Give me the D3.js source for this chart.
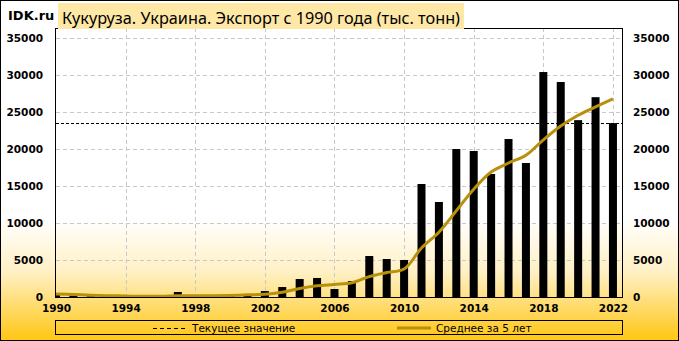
<!DOCTYPE html>
<html>
<head>
<meta charset="utf-8">
<script src="https://cdn.jsdelivr.net/npm/d3@7"></script>
<style>
  body { margin: 0; background: #fff; }
  svg { display: block; }
  .tick text { font-family: "DejaVu Sans", sans-serif; font-weight: bold; font-size: 10.5px; fill: #000; }
</style>
</head>
<body>
<svg width="679" height="341"></svg>
<script>
// years and export values (thousand tonnes)
var years = d3.range(1990, 2023);
var exportVals = [300, 200, 100, 50, 50, 50, 50, 675, 50, 50, 250, 400,
  800, 1350, 2430, 2570, 1080, 2160, 5540, 5135, 5000, 15270, 12840, 20000,
  19730, 16620, 21350, 18110, 30400, 29050, 23900, 27000, 23500];
// 5-year average line
var avgVals = [400, 330, 250, 180, 130, 100, 100, 170, 170, 170, 210, 290,
  360, 650, 1150, 1510, 1700, 1920, 2760, 3300, 3780, 6620, 8760, 11650,
  14570, 16890, 18110, 19160, 21240, 23110, 24560, 25690, 26770];
var currentVal = 23500;
var yTicks = [0, 5000, 10000, 15000, 20000, 25000, 30000, 35000];
var xTicks = [1990, 1994, 1998, 2002, 2006, 2010, 2014, 2018, 2022];

var svg = d3.select('svg');
var W = 679, H = 341;
var pL = 56, pR = 622, pT = 28, pB = 297;

// background gradient (shows through the plot area too)
var defs = svg.append('defs');
var grad = defs.append('linearGradient').attr('id', 'bg')
  .attr('x1', 0).attr('y1', 0).attr('x2', 0).attr('y2', 1);
grad.append('stop').attr('offset', '0%').attr('stop-color', '#fff');
grad.append('stop').attr('offset', '64%').attr('stop-color', '#fff');
grad.append('stop').attr('offset', '80%').attr('stop-color', '#fff0c4');
grad.append('stop').attr('offset', '100%').attr('stop-color', '#ffc612');

svg.append('rect')
  .attr('x', 0.5).attr('y', 0.5)
  .attr('width', W - 1).attr('height', H - 1)
  .attr('fill', 'url(#bg)')
  .attr('stroke', '#000');

defs.append('clipPath').attr('id', 'plotclip')
  .append('rect')
  .attr('x', pL).attr('y', pT)
  .attr('width', pR - pL).attr('height', pB - pT);

var x = d3.scaleLinear().domain([1990, 2022.52]).range([pL, pR]);
var y = d3.scaleLinear().domain([0, 35000]).range([pB, 38]);

// grid
var grid = svg.append('g');
grid.selectAll('line.h')
  .data(yTicks.slice(1))
  .enter().append('line')
  .attr('x1', pL).attr('x2', pR)
  .attr('y1', d => Math.round(y(d)) + 0.5)
  .attr('y2', d => Math.round(y(d)) + 0.5)
  .attr('stroke', '#c8c8c8')
  .attr('stroke-dasharray', '4,3');
grid.selectAll('line.v')
  .data(xTicks.slice(1))
  .enter().append('line')
  .attr('y1', pT).attr('y2', pB)
  .attr('x1', d => Math.round(x(d)) + 0.5)
  .attr('x2', d => Math.round(x(d)) + 0.5)
  .attr('stroke', '#c8c8c8')
  .attr('stroke-dasharray', '4,3');

var plot = svg.append('g').attr('clip-path', 'url(#plotclip)');

// bars
var barW = 8;
plot.selectAll('rect.bar')
  .data(years)
  .enter().append('rect')
  .attr('class', 'bar')
  .attr('x', d => x(d) - barW / 2)
  .attr('width', barW)
  .attr('y', (d, i) => y(exportVals[i]))
  .attr('height', (d, i) => pB - y(exportVals[i]))
  .attr('fill', '#000');

// current value line
plot.append('line')
  .attr('x1', pL).attr('x2', pR)
  .attr('y1', Math.round(y(currentVal)) + 0.5)
  .attr('y2', Math.round(y(currentVal)) + 0.5)
  .attr('stroke', '#000')
  .attr('stroke-dasharray', '3,2');

// 5-year average
var line = d3.line()
  .x((d, i) => x(years[i]))
  .y(d => y(d))
  .curve(d3.curveCatmullRom);
plot.append('path')
  .datum(avgVals)
  .attr('d', line)
  .attr('fill', 'none')
  .attr('stroke', '#b8900a')
  .attr('stroke-width', 3);

// frame
svg.append('rect')
  .attr('x', pL - 0.5).attr('y', pT + 0.5)
  .attr('width', pR - pL + 1).attr('height', pB - pT)
  .attr('fill', 'none')
  .attr('stroke', '#000');

// axes
var yLeft = d3.axisLeft(y).tickValues(yTicks).tickFormat(d3.format('d')).tickSize(0).tickPadding(13);
svg.append('g').attr('transform', 'translate(' + pL + ',0)').call(yLeft)
  .call(g => g.select('.domain').remove());
var yRight = d3.axisRight(y).tickValues(yTicks).tickFormat(d3.format('d')).tickSize(0).tickPadding(11);
svg.append('g').attr('transform', 'translate(' + pR + ',0)').call(yRight)
  .call(g => g.select('.domain').remove());
var xAxis = d3.axisBottom(x).tickValues(xTicks).tickFormat(d3.format('d')).tickSize(0).tickPadding(8);
svg.append('g').attr('transform', 'translate(0,' + pB + ')').call(xAxis)
  .call(g => g.select('.domain').remove());

// title
svg.append('text')
  .attr('x', 8).attr('y', 20)
  .attr('font-family', 'DejaVu Sans, sans-serif')
  .attr('font-weight', 'bold')
  .attr('font-size', 13)
  .text('IDK.ru');
svg.append('rect')
  .attr('x', 58).attr('y', 3)
  .attr('width', 406).attr('height', 26)
  .attr('fill', '#ffe8a6');
svg.append('text')
  .attr('x', 62).attr('y', 24)
  .attr('font-family', 'Noto Sans, sans-serif')
  .attr('font-size', 16)
  .attr('textLength', 398)
  .attr('lengthAdjust', 'spacingAndGlyphs')
  .text('Кукуруза. Украина. Экспорт с 1990 года (тыс. тонн)');

// legend
var lg = svg.append('g');
lg.append('rect')
  .attr('x', 55.5).attr('y', 320.5)
  .attr('width', 567).attr('height', 14)
  .attr('fill', 'none')
  .attr('stroke', '#000');
lg.append('line')
  .attr('x1', 153).attr('x2', 186)
  .attr('y1', 328.5).attr('y2', 328.5)
  .attr('stroke', '#000')
  .attr('stroke-dasharray', '4,3');
lg.append('text')
  .attr('x', 192).attr('y', 332)
  .attr('font-family', 'DejaVu Sans, sans-serif')
  .attr('font-size', 10.5)
  .text('Текущее значение');
lg.append('line')
  .attr('x1', 397).attr('x2', 431)
  .attr('y1', 328).attr('y2', 328)
  .attr('stroke', '#b8900a')
  .attr('stroke-width', 3);
lg.append('text')
  .attr('x', 436).attr('y', 332)
  .attr('font-family', 'DejaVu Sans, sans-serif')
  .attr('font-size', 10.5)
  .text('Среднее за 5 лет');
</script>
</body>
</html>
